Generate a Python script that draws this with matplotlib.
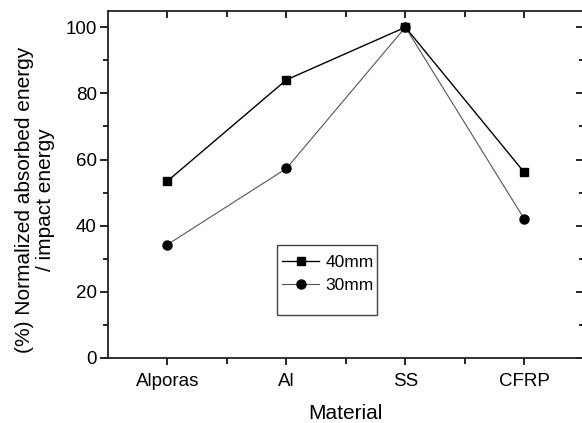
import matplotlib
matplotlib.use("Agg")
import matplotlib.pyplot as plt
from matplotlib.patches import Rectangle
from matplotlib.ticker import MultipleLocator

categories = ["Alporas", "Al", "SS", "CFRP"]
series_40mm = [53.5, 84.1, 100.0, 56.1]
series_30mm = [34.3, 57.3, 100.0, 42.0]
y_ticks = [0, 20, 40, 60, 80, 100]

plt.rcParams['font.family'] = ['Liberation Sans', 'DejaVu Sans']

fig = plt.figure(figsize=(5.82, 4.23), dpi=100)
ax = fig.add_axes([0.1856, 0.1537, 0.8175, 0.8210])

x = list(range(len(categories)))
ax.plot(x, series_40mm, color='black', lw=1.0, marker='s', markersize=5.5,
        markerfacecolor='black', markeredgecolor='black', label='40mm')
ax.plot(x, series_30mm, color='#555555', lw=0.8, marker='o', markersize=6.5,
        markerfacecolor='black', markeredgecolor='black', label='30mm')

ax.set_xlim(-0.5, len(categories) - 0.5)
ax.set_ylim(0, 105)
ax.set_xticks(x)
ax.set_xticklabels(categories)
ax.set_yticks(y_ticks)
ax.yaxis.set_minor_locator(MultipleLocator(10))
ax.set_xticks([0.5, 1.5, 2.5], minor=True)

ax.tick_params(axis='both', which='both', labelsize=13.5, colors='black')
ax.tick_params(axis='y', which='major', direction='out', length=6, width=1.2, left=True, right=True, pad=2)
ax.tick_params(axis='y', which='minor', direction='out', length=3.5, width=1.2, left=True, right=True)
ax.tick_params(axis='x', which='major', direction='out', length=5, width=1.2, bottom=True, top=True, pad=6)
ax.tick_params(axis='x', which='minor', direction='out', length=4, width=1.2, bottom=True, top=True)
# top and right ticks point inward
for t in ax.xaxis.get_major_ticks() + ax.xaxis.get_minor_ticks():
    t.tick2line.set_marker(3)
for t in ax.yaxis.get_major_ticks() + ax.yaxis.get_minor_ticks():
    t.tick2line.set_marker(0)

for s in ['left', 'bottom', 'top', 'right']:
    ax.spines[s].set_linewidth(1.3)
    ax.spines[s].set_color('#222222')

ax.set_xlabel("Material", fontsize=15, labelpad=10)
ax.set_ylabel("(%) Normalized absorbed energy\n/ impact energy", fontsize=15, linespacing=1.1)
ax.yaxis.set_label_coords(-0.112, 0.455)

ax.add_patch(Rectangle((0.355, 0.124), 0.211, 0.202, transform=ax.transAxes,
                       fill=False, edgecolor='#444444', lw=1.0, zorder=5))
ax.legend(loc='upper left', bbox_to_anchor=(0.352, 0.317), frameon=False,
          fontsize=12.5, handlelength=2.1, handletextpad=0.4, labelspacing=0.45,
          borderaxespad=0.0)

fig.savefig("out.png", dpi=100)
